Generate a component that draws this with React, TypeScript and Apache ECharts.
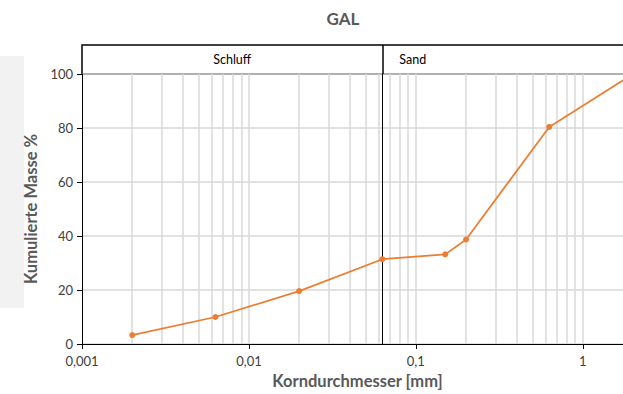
import React, { useEffect, useRef } from 'react';
import * as echarts from 'echarts';

const TITLE = 'GAL';
const X_NAME = 'Korndurchmesser [mm]';
const Y_NAME = 'Kumulierte Masse %';

const DIAMETERS = [0.002, 0.0063, 0.02, 0.063, 0.15, 0.2, 0.63, 2];
const PASSING = [3.3, 10.0, 19.6, 31.4, 33.2, 38.7, 80.4, 100];

const X_MIN = 0.001;
const X_MAX = 2;
const Y_MIN = 0;
const Y_MAX = 100;
const Y_INTERVAL = 20;

const MINOR_GRID_X = [
  0.002, 0.003, 0.004, 0.005, 0.006, 0.007, 0.008, 0.009,
  0.01, 0.02, 0.03, 0.04, 0.05, 0.06, 0.07, 0.08, 0.09,
  0.1, 0.2, 0.3, 0.4, 0.5, 0.6, 0.7, 0.8, 0.9,
  1,
];

const BOUNDARY = 0.063;
const ZONE_NAMES = ['Schluff', 'Sand'];
const ZONE_FROM = [0.001, 0.063];
const ZONE_TO = [0.063, 2];

const FONT = 'Lato, "Noto Sans", sans-serif';

const fmtX = (v: number) => String(Number(v.toPrecision(3))).replace('.', ',');

const vLine = (v: number, y0: number, y1: number) => [{ coord: [v, y0] }, { coord: [v, y1] }];

export default function App() {
  const ref = useRef<HTMLDivElement>(null);
  useEffect(() => {
    if (!ref.current) return;
    const chart = echarts.init(ref.current, undefined, { renderer: 'svg' });
    const left = 82;
    const right = 7;
    chart.setOption({
      animation: false,
      backgroundColor: '#fff',
      textStyle: { fontFamily: FONT },
      title: {
        text: TITLE,
        left: 338,
        top: 5,
        textAlign: 'center',
        textStyle: { fontSize: 17, fontWeight: 'bold', color: '#595959', fontFamily: FONT },
      },
      graphic: [
        {
          type: 'rect',
          left: 0,
          top: 56,
          shape: { width: 24, height: 252 },
          style: { fill: '#f2f2f2' },
          z: -1,
        },
      ],
      grid: [
        { left, right, top: 74, bottom: 49 },
        {
          left, right, top: 45, height: 29,
          show: true, borderColor: '#000', borderWidth: 1.5, backgroundColor: '#fff',
        },
      ],
      xAxis: [
        {
          type: 'log',
          logBase: 10,
          min: X_MIN,
          max: X_MAX,
          gridIndex: 0,
          name: X_NAME,
          nameLocation: 'middle',
          nameGap: 28,
          nameTextStyle: { fontSize: 16.5, fontWeight: 'bold', color: '#595959', fontFamily: FONT },
          axisLine: { show: true, onZero: false, lineStyle: { color: '#000', width: 1 } },
          axisTick: { show: true, length: 5, lineStyle: { color: '#000' } },
          axisLabel: {
            fontSize: 13, color: '#404040', margin: 10, fontFamily: FONT,
            formatter: fmtX, showMaxLabel: false,
          },
          splitLine: { show: false },
          minorTick: { show: false },
        },
        {
          type: 'log',
          logBase: 10,
          min: X_MIN,
          max: X_MAX,
          gridIndex: 1,
          show: false,
        },
      ],
      yAxis: [
        {
          type: 'value',
          min: Y_MIN,
          max: Y_MAX,
          interval: Y_INTERVAL,
          gridIndex: 0,
          name: Y_NAME,
          nameLocation: 'middle',
          nameGap: 35,
          nameTextStyle: { fontSize: 16.5, fontWeight: 'bold', color: '#595959', fontFamily: FONT },
          axisLine: { show: true, lineStyle: { color: '#000', width: 1 } },
          axisTick: { show: true, length: 5, lineStyle: { color: '#000' } },
          axisLabel: { fontSize: 13, color: '#404040', margin: 9, fontFamily: FONT },
          splitLine: { show: true, lineStyle: { color: '#d9d9d9', width: 1.5 } },
        },
        { type: 'value', min: 0, max: 1, gridIndex: 1, show: false },
      ],
      series: [
        {
          type: 'line',
          data: [],
          xAxisIndex: 0,
          yAxisIndex: 0,
          silent: true,
          z: 1,
          markLine: {
            silent: true,
            precision: 6,
            symbol: ['none', 'none'],
            label: { show: false },
            lineStyle: { color: '#d9d9d9', width: 1.5, type: 'solid' },
            data: MINOR_GRID_X.map((v) => vLine(v, Y_MIN, Y_MAX)),
          },
        },
        {
          type: 'line',
          data: [],
          xAxisIndex: 0,
          yAxisIndex: 0,
          silent: true,
          z: 2,
          markLine: {
            silent: true,
            precision: 6,
            symbol: ['none', 'none'],
            label: { show: false },
            lineStyle: { color: '#000', width: 1, type: 'solid' },
            data: [vLine(BOUNDARY, Y_MIN, Y_MAX)],
          },
        },
        {
          type: 'line',
          data: [],
          xAxisIndex: 1,
          yAxisIndex: 1,
          silent: true,
          z: 2,
          markLine: {
            silent: true,
            precision: 6,
            symbol: ['none', 'none'],
            label: { show: false },
            lineStyle: { color: '#000', width: 1.5, type: 'solid' },
            data: [vLine(BOUNDARY, 0, 1)],
          },
          markArea: {
            silent: true,
            itemStyle: { color: 'rgba(0,0,0,0)' },
            data: ZONE_NAMES.map((n, i) => [
              {
                name: n,
                coord: [ZONE_FROM[i], 0],
                label: i === 0
                  ? { show: true, position: 'inside', fontSize: 12.5, color: '#000', fontFamily: FONT }
                  : { show: true, position: 'insideLeft', distance: 17, fontSize: 12.5, color: '#000', fontFamily: FONT },
              },
              { coord: [ZONE_TO[i], 1] },
            ]),
          },
        },
        {
          type: 'line',
          name: TITLE,
          data: DIAMETERS.map((d, i) => [d, PASSING[i]]),
          xAxisIndex: 0,
          yAxisIndex: 0,
          z: 5,
          symbol: 'circle',
          symbolSize: 6,
          lineStyle: { color: '#ED7D31', width: 1.75 },
          itemStyle: { color: '#ED7D31' },
        },
      ],
    });
    return () => chart.dispose();
  }, []);
  return (
    <div
      ref={ref}
      style={{ position: 'fixed', left: 0, top: 0, width: 640, height: 394 }}
    />
  );
}
